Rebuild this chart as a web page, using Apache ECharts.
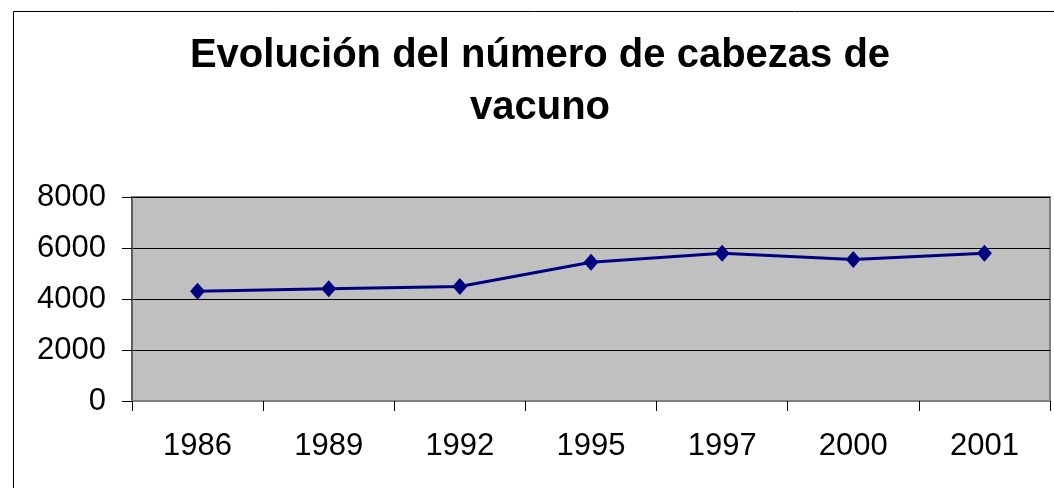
<!DOCTYPE html>
<html>
<head>
<meta charset="utf-8">
<script src="https://cdn.jsdelivr.net/npm/echarts@6/dist/echarts.min.js"></script>
<style>
html,body{margin:0;padding:0;background:#fff;}
#chart{width:1054px;height:488px;}
</style>
</head>
<body>
<div id="chart"></div>
<script>
var titleText = 'Evolución del número de cabezas de\nvacuno';
var categories = ['1986', '1989', '1992', '1995', '1997', '2000', '2001'];
var values = [4300, 4400, 4490, 5440, 5790, 5550, 5790];
var yMin = 0, yMax = 8000, yStep = 2000;

var chart = echarts.init(document.getElementById('chart'), null, {renderer: 'canvas'});
chart.setOption({
  animation: false,
  backgroundColor: '#ffffff',
  graphic: [{
    type: 'rect', z: 0, silent: true,
    shape: {x: 13.5, y: 11.5, width: 1100, height: 600},
    style: {fill: 'none', stroke: '#000000', lineWidth: 1}
  }],
  title: {
    text: titleText,
    left: 540,
    textAlign: 'center',
    top: 30,
    padding: 0,
    textStyle: {fontFamily: 'Liberation Sans', fontSize: 40, fontWeight: 'bold', color: '#000', lineHeight: 52}
  },
  grid: {left: 132, right: 4, top: 197, bottom: 87, show: true, backgroundColor: '#C0C0C0', borderColor: '#808080', borderWidth: 2},
  xAxis: {
    type: 'category',
    data: categories,
    boundaryGap: true,
    axisLine: {show: true, lineStyle: {color: '#808080', width: 2}},
    axisTick: {show: true, inside: false, length: 10, alignWithLabel: false, lineStyle: {color: '#000', width: 1}},
    axisLabel: {fontFamily: 'Liberation Sans', fontSize: 31, color: '#000', margin: 30},
    splitLine: {show: false}
  },
  yAxis: {
    type: 'value',
    min: yMin, max: yMax, interval: yStep,
    axisLine: {show: true, lineStyle: {color: '#606060', width: 2}},
    axisTick: {show: true, inside: false, length: 10, lineStyle: {color: '#000', width: 1}},
    axisLabel: {fontFamily: 'Liberation Sans', fontSize: 31, color: '#000', margin: 26, formatter: function (v) { return String(v); }},
    splitLine: {show: true, lineStyle: {color: '#000', width: 1}}
  },
  series: [{
    type: 'line',
    data: values,
    symbol: 'diamond',
    symbolSize: [15, 17],
    lineStyle: {color: '#000080', width: 3},
    itemStyle: {color: '#000080'},
    z: 5
  }]
});
</script>
</body>
</html>
